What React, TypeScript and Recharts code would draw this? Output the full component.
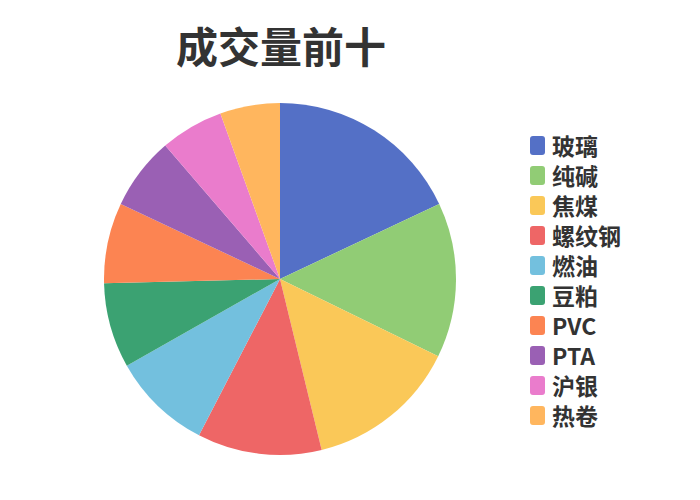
import { PieChart, Pie, Cell, Legend } from 'recharts'

// 品种与成交量（按图中扇区角度估读）
const names = ['玻璃', '纯碱', '焦煤', '螺纹钢', '燃油', '豆粕', 'PVC', 'PTA', '沪银', '热卷']
const volumes = [6475, 5125, 5030, 4110, 3310, 2810, 2660, 2410, 2090, 1980]
const colors = [
  '#5470c6',
  '#91cc75',
  '#fac858',
  '#ee6666',
  '#73c0de',
  '#3ba272',
  '#fc8452',
  '#9a60b4',
  '#ea7ccc',
  '#ffb65e',
]

const FONT = '"Noto Sans CJK SC", "Noto Sans", sans-serif'

const data = names.map((name, i) => ({ name, value: volumes[i] }))

function renderLegend() {
  return (
    <div style={{ fontFamily: FONT }}>
      {names.map((name, i) => (
        <div
          key={name}
          style={{ display: 'flex', alignItems: 'center', height: 30 }}
        >
          <span
            style={{
              display: 'inline-block',
              width: 15,
              height: 19,
              borderRadius: 3,
              background: colors[i],
              marginRight: 7,
            }}
          />
          <span
            style={{
              display: 'inline-block',
              fontSize: 23,
              fontWeight: 700,
              color: '#333',
              lineHeight: '24px',
              height: 24,
            }}
          >
            {name}
          </span>
        </div>
      ))}
    </div>
  )
}

export default function App() {
  return (
    <div style={{ position: 'absolute', left: 0, top: 0, width: 700, height: 500, background: '#fff' }}>
      <div
        style={{
          position: 'absolute',
          left: 0,
          width: 562,
          top: 24,
          textAlign: 'center',
          fontFamily: FONT,
          fontSize: 42,
          fontWeight: 700,
          lineHeight: '42px',
          color: '#333',
        }}
      >
        成交量前十
      </div>
      <PieChart width={700} height={500} margin={{ top: 0, right: 0, bottom: 0, left: 0 }}>
        <Pie
          data={data}
          dataKey="value"
          nameKey="name"
          cx={280}
          cy={279}
          outerRadius={176}
          startAngle={90}
          endAngle={-270}
          stroke="none"
          isAnimationActive={false}
        >
          {data.map((d, i) => (
            <Cell key={d.name} fill={colors[i]} />
          ))}
        </Pie>
        <Legend
          layout="vertical"
          content={renderLegend}
          wrapperStyle={{ left: 530, top: 130, width: 150 }}
        />
      </PieChart>
    </div>
  )
}
